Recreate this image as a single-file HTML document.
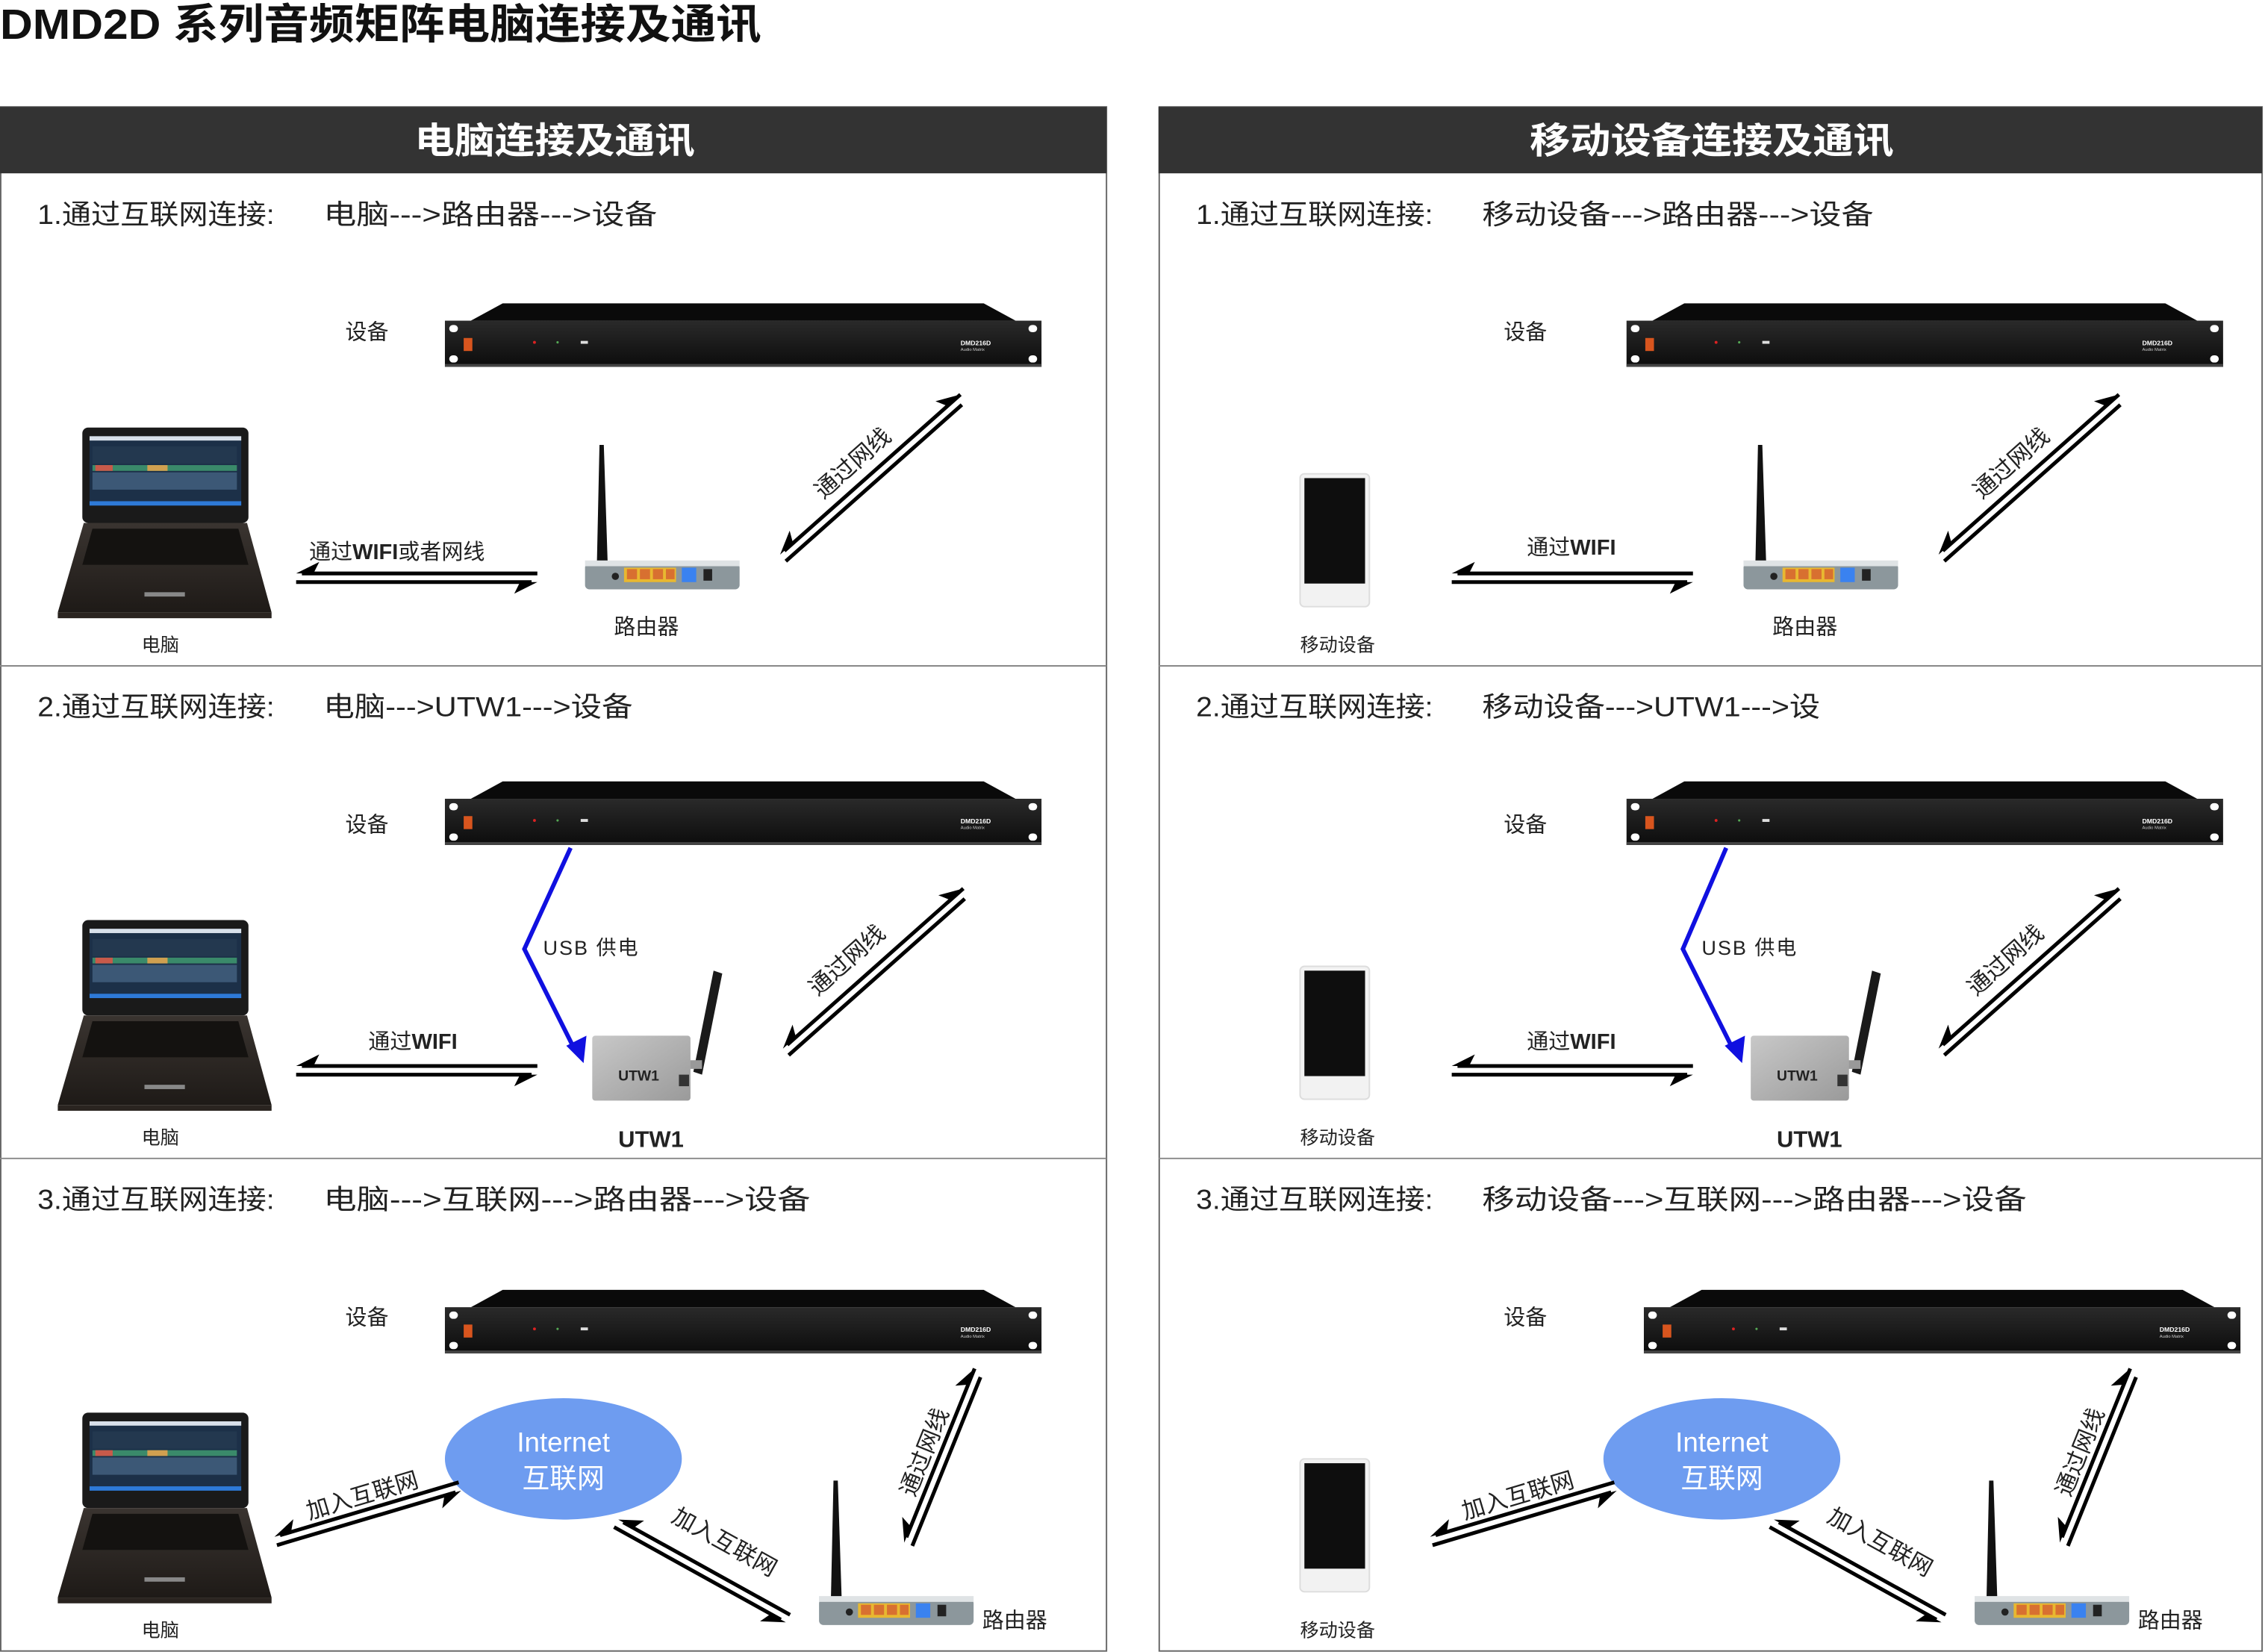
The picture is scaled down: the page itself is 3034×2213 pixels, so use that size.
<!DOCTYPE html>
<html><head><meta charset="utf-8"><style>
html,body{margin:0;padding:0;background:#fff;}
svg{display:block;}
text{font-family:"Liberation Sans","Noto Sans CJK SC",sans-serif;}
</style></head><body>
<svg width="3034" height="2213" viewBox="0 0 1568 1143.7" preserveAspectRatio="none" xmlns="http://www.w3.org/2000/svg">
<defs>
<linearGradient id="rg" x1="0" y1="0" x2="0" y2="1"><stop offset="0" stop-color="#2a2a2a"/><stop offset="1" stop-color="#0c0c0c"/></linearGradient>
<linearGradient id="lg" x1="0" y1="0" x2="0" y2="1"><stop offset="0" stop-color="#3a3430"/><stop offset="1" stop-color="#1e1a17"/></linearGradient>
<linearGradient id="ug" x1="0" y1="0" x2="1" y2="1"><stop offset="0" stop-color="#c8c8c8"/><stop offset="1" stop-color="#9a9a9a"/></linearGradient>
<g id="rack">
<polygon points="18,12 40,0 373,0 395,12" fill="#0a0a0a"/>
<rect x="0" y="12" width="413" height="32" fill="url(#rg)"/>
<rect x="0" y="42" width="413" height="2" fill="#444"/>
<rect x="3" y="15" width="6" height="5" rx="2.5" fill="#fff"/>
<rect x="3" y="36" width="6" height="5" rx="2.5" fill="#fff"/>
<rect x="404" y="15" width="6" height="5" rx="2.5" fill="#fff"/>
<rect x="404" y="36" width="6" height="5" rx="2.5" fill="#fff"/>
<rect x="13" y="24" width="6" height="9" fill="#d8551e"/>
<circle cx="62" cy="27" r="1" fill="#d22"/>
<circle cx="78" cy="27" r="0.8" fill="#5a5"/>
<rect x="94" y="26" width="5" height="2" fill="#ddd"/>
<text x="357" y="29" font-size="4.5" fill="#fff" font-weight="bold">DMD216D</text>
<text x="357" y="33" font-size="3" fill="#ccc">Audio Matrix</text>
</g>
<g id="laptop">
<rect x="17" y="0" width="115" height="66" rx="4" fill="#1a1a1a"/>
<rect x="22" y="6" width="105" height="48" fill="#1c3048"/>
<rect x="22" y="6" width="105" height="3" fill="#d8e0ea"/>
<rect x="24" y="13" width="100" height="12" fill="#23384f"/>
<rect x="24" y="26" width="100" height="4" fill="#3a8a6a"/>
<rect x="26" y="26" width="12" height="4" fill="#c85a4a"/>
<rect x="62" y="26" width="14" height="4" fill="#d0a050"/>
<rect x="24" y="31" width="100" height="12" fill="#4a6a8a" opacity="0.7"/>
<rect x="22" y="51" width="105" height="3" fill="#2e7ad8"/>
<polygon points="18,66 131,66 148,128 0,128" fill="url(#lg)"/>
<polygon points="24,70 125,70 132,95 17,95" fill="#141210"/>
<rect x="60" y="114" width="28" height="3" fill="#888"/>
<rect x="0" y="128" width="148" height="4" fill="#2a2420"/>
</g>
<g id="router">
<polygon points="8,92 10,0 13,0 16,92" fill="#111"/>
<rect x="0" y="82" width="107" height="18" rx="3" fill="#8c979c"/>
<rect x="0" y="80" width="107" height="4" fill="#dfe3e5"/>
<circle cx="21" cy="91" r="2.5" fill="#222"/>
<rect x="27" y="85" width="36" height="10" fill="#e8b830"/>
<rect x="29" y="86" width="7" height="7" fill="#d87030"/>
<rect x="38" y="86" width="7" height="7" fill="#d87030"/>
<rect x="47" y="86" width="7" height="7" fill="#d87030"/>
<rect x="56" y="86" width="6" height="7" fill="#d87030"/>
<rect x="67" y="85" width="10" height="10" fill="#3a82f0"/>
<rect x="82" y="86" width="6" height="8" fill="#222"/>
</g>
<g id="phone">
<rect x="0" y="0" width="48" height="92" rx="3" fill="#f2f2f2" stroke="#ddd" stroke-width="1"/>
<rect x="3" y="3" width="42" height="73" fill="#0e0e0e"/>
</g>
<g id="utw">
<polygon points="84,0 90,2 76,72 70,70" fill="#1a1a1a"/>
<rect x="64" y="62" width="12" height="6" fill="#999"/>
<rect x="0" y="45" width="68" height="45" rx="2" fill="url(#ug)"/>
<rect x="60" y="72" width="7" height="8" fill="#333"/>
<text x="18" y="76" font-size="10" font-weight="bold" fill="#222">UTW1</text>
</g>
</defs>

<text x="0" y="27" font-size="29" font-weight="bold" fill="#111" textLength="527" lengthAdjust="spacingAndGlyphs">DMD2D 系列音频矩阵电脑连接及通讯</text>

<rect x="0.5" y="74" width="765.5" height="1069" fill="none" stroke="#666" stroke-width="1"/>
<rect x="802.5" y="74" width="763.5" height="1069" fill="none" stroke="#666" stroke-width="1"/>
<rect x="0" y="74" width="766" height="46" fill="#333"/>
<rect x="802" y="74" width="764" height="46" fill="#333"/>
<text x="384" y="106" font-size="25" font-weight="bold" fill="#fff" text-anchor="middle" textLength="194" lengthAdjust="spacingAndGlyphs">电脑连接及通讯</text>
<text x="1185" y="106" font-size="25" font-weight="bold" fill="#fff" text-anchor="middle" textLength="252" lengthAdjust="spacingAndGlyphs">移动设备连接及通讯</text>
<line x1="0" y1="461" x2="766" y2="461" stroke="#888" stroke-width="1"/>
<line x1="802" y1="461" x2="1566" y2="461" stroke="#888" stroke-width="1"/>
<line x1="0" y1="802" x2="766" y2="802" stroke="#888" stroke-width="1"/>
<line x1="802" y1="802" x2="1566" y2="802" stroke="#888" stroke-width="1"/>

<g font-size="19" fill="#222">
<text x="26" y="155" textLength="164" lengthAdjust="spacingAndGlyphs">1.通过互联网连接:</text>
<text x="224" y="155" textLength="231" lengthAdjust="spacingAndGlyphs">电脑--->路由器--->设备</text>
<text x="26" y="496" textLength="164" lengthAdjust="spacingAndGlyphs">2.通过互联网连接:</text>
<text x="224" y="496" textLength="214" lengthAdjust="spacingAndGlyphs">电脑--->UTW1--->设备</text>
<text x="26" y="837" textLength="164" lengthAdjust="spacingAndGlyphs">3.通过互联网连接:</text>
<text x="224" y="837" textLength="337" lengthAdjust="spacingAndGlyphs">电脑--->互联网--->路由器--->设备</text>
<text x="828" y="155" textLength="164" lengthAdjust="spacingAndGlyphs">1.通过互联网连接:</text>
<text x="1026" y="155" textLength="271" lengthAdjust="spacingAndGlyphs">移动设备--->路由器--->设备</text>
<text x="828" y="496" textLength="164" lengthAdjust="spacingAndGlyphs">2.通过互联网连接:</text>
<text x="1026" y="496" textLength="234" lengthAdjust="spacingAndGlyphs">移动设备--->UTW1--->设</text>
<text x="828" y="837" textLength="164" lengthAdjust="spacingAndGlyphs">3.通过互联网连接:</text>
<text x="1026" y="837" textLength="377" lengthAdjust="spacingAndGlyphs">移动设备--->互联网--->路由器--->设备</text>
</g>

<use href="#rack" x="308" y="210"/>
<use href="#rack" x="308" y="541"/>
<use href="#rack" x="308" y="893"/>
<use href="#rack" x="1126" y="210"/>
<use href="#rack" x="1126" y="541"/>
<use href="#rack" x="1138" y="893"/>

<g font-size="15" fill="#222">
<text x="239" y="235">设备</text>
<text x="239" y="576">设备</text>
<text x="239" y="917">设备</text>
<text x="1041" y="235">设备</text>
<text x="1041" y="576">设备</text>
<text x="1041" y="917">设备</text>
<text x="98" y="451" font-size="13">电脑</text>
<text x="98" y="792" font-size="13">电脑</text>
<text x="98" y="1133" font-size="13">电脑</text>
<text x="900" y="451" font-size="13">移动设备</text>
<text x="900" y="792" font-size="13">移动设备</text>
<text x="900" y="1133" font-size="13">移动设备</text>
<text x="425" y="439">路由器</text>
<text x="1227" y="439">路由器</text>
<text x="680" y="1127">路由器</text>
<text x="1480" y="1127">路由器</text>
<text x="428" y="794" font-weight="bold" font-size="16">UTW1</text>
<text x="1230" y="794" font-weight="bold" font-size="16">UTW1</text>
<text x="214" y="387">通过<tspan font-weight="bold">WIFI</tspan>或者网线</text>
<text x="1057" y="384">通过<tspan font-weight="bold">WIFI</tspan></text>
<text x="255" y="726">通过<tspan font-weight="bold">WIFI</tspan></text>
<text x="1057" y="726">通过<tspan font-weight="bold">WIFI</tspan></text>
<text x="376" y="661" font-size="14" letter-spacing="1">USB 供电</text>
<text x="1178" y="661" font-size="14" letter-spacing="1">USB 供电</text>
</g>

<use href="#laptop" x="40" y="296"/>
<use href="#laptop" x="40" y="637"/>
<use href="#laptop" x="40" y="978"/>
<use href="#phone" x="900" y="328"/>
<use href="#phone" x="900" y="669"/>
<use href="#phone" x="900" y="1010"/>
<use href="#router" x="405" y="308"/>
<use href="#router" x="1207" y="308"/>
<use href="#router" x="567" y="1025"/>
<use href="#router" x="1367" y="1025"/>
<use href="#utw" x="410" y="672"/>
<use href="#utw" x="1212" y="672"/>

<polyline points="395,587 363,657 397,725" fill="none" stroke="#1010e0" stroke-width="3"/>
<polygon points="392,724 404,736 406,717" fill="#1010e0"/>
<polyline points="1195,587 1165,657 1199,725" fill="none" stroke="#1010e0" stroke-width="3"/>
<polygon points="1194,724 1206,736 1208,717" fill="#1010e0"/>

<ellipse cx="390" cy="1010" rx="82" ry="42" fill="#6e9cf0"/>
<text x="390" y="1005" font-size="19" fill="#fff" text-anchor="middle">Internet</text>
<text x="390" y="1030" font-size="19" fill="#fff" text-anchor="middle">互联网</text>
<ellipse cx="1192" cy="1010" rx="82" ry="42" fill="#6e9cf0"/>
<text x="1192" y="1005" font-size="19" fill="#fff" text-anchor="middle">Internet</text>
<text x="1192" y="1030" font-size="19" fill="#fff" text-anchor="middle">互联网</text>

<g stroke="#000" stroke-width="2.6" fill="#000">
<g transform="translate(205,397)"><line x1="4" y1="0" x2="167" y2="0"/><line x1="0" y1="6" x2="163" y2="6"/><polygon points="0,0 16,-8 12,0" stroke="none"/><polygon points="167,6 151,14 155,6" stroke="none"/></g>
<g transform="translate(1005,397)"><line x1="4" y1="0" x2="167" y2="0"/><line x1="0" y1="6" x2="163" y2="6"/><polygon points="0,0 16,-8 12,0" stroke="none"/><polygon points="167,6 151,14 155,6" stroke="none"/></g>
<g transform="translate(205,738)"><line x1="4" y1="0" x2="167" y2="0"/><line x1="0" y1="6" x2="163" y2="6"/><polygon points="0,0 16,-8 12,0" stroke="none"/><polygon points="167,6 151,14 155,6" stroke="none"/></g>
<g transform="translate(1005,738)"><line x1="4" y1="0" x2="167" y2="0"/><line x1="0" y1="6" x2="163" y2="6"/><polygon points="0,0 16,-8 12,0" stroke="none"/><polygon points="167,6 151,14 155,6" stroke="none"/></g>
<g transform="translate(540,384) rotate(-41.6)"><line x1="4" y1="0" x2="167" y2="0"/><line x1="0" y1="6" x2="163" y2="6"/><polygon points="0,0 16,-8 12,0" stroke="none"/><polygon points="167,0 151,-8 155,0" stroke="none"/></g>
<g transform="translate(1342,384) rotate(-41.6)"><line x1="4" y1="0" x2="167" y2="0"/><line x1="0" y1="6" x2="163" y2="6"/><polygon points="0,0 16,-8 12,0" stroke="none"/><polygon points="167,0 151,-8 155,0" stroke="none"/></g>
<g transform="translate(542,726) rotate(-41.6)"><line x1="4" y1="0" x2="167" y2="0"/><line x1="0" y1="6" x2="163" y2="6"/><polygon points="0,0 16,-8 12,0" stroke="none"/><polygon points="167,0 151,-8 155,0" stroke="none"/></g>
<g transform="translate(1342,726) rotate(-41.6)"><line x1="4" y1="0" x2="167" y2="0"/><line x1="0" y1="6" x2="163" y2="6"/><polygon points="0,0 16,-8 12,0" stroke="none"/><polygon points="167,0 151,-8 155,0" stroke="none"/></g>
<g transform="translate(190,1064) rotate(-16.5)"><line x1="4" y1="0" x2="133" y2="0"/><line x1="0" y1="6" x2="129" y2="6"/><polygon points="0,0 16,-8 12,0" stroke="none"/><polygon points="133,6 117,14 121,6" stroke="none"/></g>
<g transform="translate(990,1064) rotate(-16.5)"><line x1="4" y1="0" x2="133" y2="0"/><line x1="0" y1="6" x2="129" y2="6"/><polygon points="0,0 16,-8 12,0" stroke="none"/><polygon points="133,6 117,14 121,6" stroke="none"/></g>
<g transform="translate(428,1052) rotate(29)"><line x1="4" y1="0" x2="136" y2="0"/><line x1="0" y1="6" x2="132" y2="6"/><polygon points="0,0 16,-8 12,0" stroke="none"/><polygon points="136,6 120,14 124,6" stroke="none"/></g>
<g transform="translate(1228,1052) rotate(29)"><line x1="4" y1="0" x2="136" y2="0"/><line x1="0" y1="6" x2="132" y2="6"/><polygon points="0,0 16,-8 12,0" stroke="none"/><polygon points="136,6 120,14 124,6" stroke="none"/></g>
<g transform="translate(626,1068) rotate(-68)"><line x1="4" y1="0" x2="130" y2="0"/><line x1="0" y1="6" x2="126" y2="6"/><polygon points="0,0 16,-8 12,0" stroke="none"/><polygon points="130,0 114,-8 118,0" stroke="none"/></g>
<g transform="translate(1426,1068) rotate(-68)"><line x1="4" y1="0" x2="130" y2="0"/><line x1="0" y1="6" x2="126" y2="6"/><polygon points="0,0 16,-8 12,0" stroke="none"/><polygon points="130,0 114,-8 118,0" stroke="none"/></g>
</g>

<g font-size="16" fill="#222">
<text transform="translate(570,346) rotate(-41.6)">通过网线</text>
<text transform="translate(1372,346) rotate(-41.6)">通过网线</text>
<text transform="translate(566,690) rotate(-41.6)">通过网线</text>
<text transform="translate(1368,690) rotate(-41.6)">通过网线</text>
<text transform="translate(214,1052) rotate(-16.5)">加入互联网</text>
<text transform="translate(1014,1052) rotate(-16.5)">加入互联网</text>
<text transform="translate(464,1053) rotate(29)">加入互联网</text>
<text transform="translate(1264,1053) rotate(29)">加入互联网</text>
<text transform="translate(633,1037) rotate(-68)">通过网线</text>
<text transform="translate(1433,1037) rotate(-68)">通过网线</text>
</g>
</svg>
</body></html>
